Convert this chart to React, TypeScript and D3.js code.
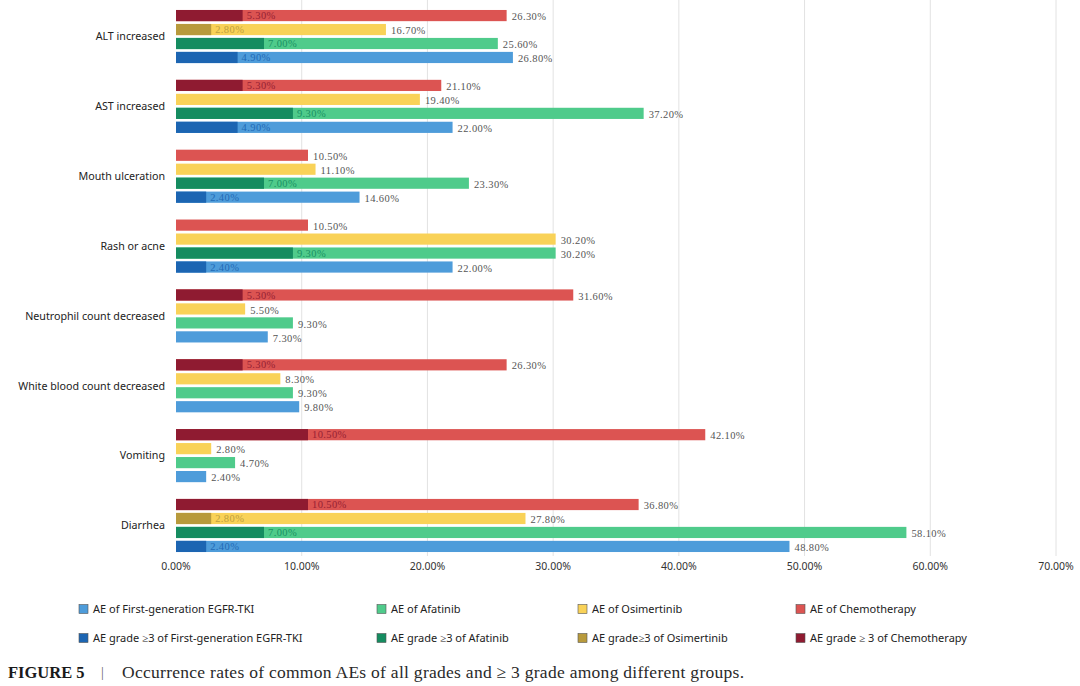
import React from "react";
import * as d3 from "d3";

const categories = [
  "ALT increased",
  "AST increased",
  "Mouth ulceration",
  "Rash or acne",
  "Neutrophil count decreased",
  "White blood count decreased",
  "Vomiting",
  "Diarrhea",
];

const seriesKeys = ["Chemotherapy", "Osimertinib", "Afatinib", "First-generation EGFR-TKI"];

// all grades (per category, same order as categories)
const chemoAll = [26.3, 21.1, 10.5, 10.5, 31.6, 26.3, 42.1, 36.8];
const osimAll = [16.7, 19.4, 11.1, 30.2, 5.5, 8.3, 2.8, 27.8];
const afatAll = [25.6, 37.2, 23.3, 30.2, 9.3, 9.3, 4.7, 58.1];
const firstAll = [26.8, 22.0, 14.6, 22.0, 7.3, 9.8, 2.4, 48.8];

// grade >= 3 (null = not reported)
const chemoG3 = [5.3, 5.3, null, null, 5.3, 5.3, 10.5, 10.5];
const osimG3 = [2.8, null, null, null, null, null, null, 2.8];
const afatG3 = [7.0, 9.3, 7.0, 9.3, null, null, null, 7.0];
const firstG3 = [4.9, 4.9, 2.4, 2.4, null, null, null, 2.4];

const xTicks = [0, 10, 20, 30, 40, 50, 60, 70];

const lightColors = ["#DC5452", "#F9D258", "#4FCB8B", "#4E9CDA"];
const darkColors = ["#8F1B31", "#B89A3C", "#158C60", "#1C65B2"];

const legendRow1 = [
  { label: "AE of First-generation EGFR-TKI", color: "#4E9CDA" },
  { label: "AE of Afatinib", color: "#4FCB8B" },
  { label: "AE of Osimertinib", color: "#F9D258" },
  { label: "AE of Chemotherapy", color: "#DC5452" },
];
const legendRow2 = [
  { label: "AE grade ≥3 of First-generation EGFR-TKI", color: "#1C65B2" },
  { label: "AE grade ≥3 of Afatinib", color: "#158C60" },
  { label: "AE grade≥3 of Osimertinib", color: "#B89A3C" },
  { label: "AE grade ≥ 3 of Chemotherapy", color: "#8F1B31" },
];
const legendX = [79, 377, 578, 796];

const allSeries = [chemoAll, osimAll, afatAll, firstAll];
const g3Series = [chemoG3, osimG3, afatG3, firstG3];

const fmt = (v: number) => v.toFixed(2) + "%";

export default function App() {
  const W = 1080;
  const H = 686;
  const x = d3.scaleLinear().domain([0, 70]).range([176, 1056]);
  const y = d3
    .scaleBand<string>()
    .domain(categories)
    .range([1.6, 560.4])
    .paddingInner(0.24)
    .paddingOuter(0.12);
  const ySub = d3
    .scaleBand<string>()
    .domain(seriesKeys)
    .range([0, y.bandwidth()])
    .paddingInner(0.2)
    .paddingOuter(0);
  const bh = ySub.bandwidth();

  return (
    <svg
      width={W}
      height={H}
      style={{ position: "absolute", left: 0, top: 0, background: "#fff" }}
    >
      <rect x={0} y={0} width={W} height={H} fill="#fff" />
      {/* gridlines */}
      {xTicks.slice(1).map((t) => (
        <line
          key={"g" + t}
          x1={x(t)}
          x2={x(t)}
          y1={0}
          y2={556}
          stroke="#e2e2e2"
          strokeWidth={1}
        />
      ))}
      {/* bars */}
      {categories.map((c, ci) => (
        <g key={c} transform={`translate(0,${y(c)})`}>
          {seriesKeys.map((s, si) => {
            const v = allSeries[si][ci];
            const g = g3Series[si][ci];
            const yy = ySub(s)!;
            return (
              <g key={s}>
                <rect
                  x={x(0)}
                  y={yy}
                  width={x(v) - x(0)}
                  height={bh}
                  fill={lightColors[si]}
                />
                {g != null && (
                  <rect
                    x={x(0)}
                    y={yy}
                    width={x(g) - x(0)}
                    height={bh}
                    fill={darkColors[si]}
                  />
                )}
                {g != null && (
                  <text
                    x={x(g) + 4}
                    y={yy + bh / 2}
                    dy="0.35em"
                    fontFamily="Liberation Serif"
                    fontSize={10.5}
                    letterSpacing={0.4}
                    fill={darkColors[si]}
                    opacity={0.9}
                  >
                    {fmt(g)}
                  </text>
                )}
                <text
                  x={x(v) + 5}
                  y={yy + bh / 2 + 1}
                  dy="0.35em"
                  fontFamily="Liberation Serif"
                  fontSize={10.5}
                  letterSpacing={0.4}
                  fill="#555"
                >
                  {fmt(v)}
                </text>
              </g>
            );
          })}
          <text
            x={165}
            y={y.bandwidth() / 2}
            dy="0.35em"
            textAnchor="end"
            fontFamily="Noto Sans"
            fontSize={10.7}
            fill="#222"
          >
            {c}
          </text>
        </g>
      ))}
      {/* x axis labels */}
      {xTicks.map((t) => (
        <text
          key={"t" + t}
          x={x(t)}
          y={566}
          dy="0.35em"
          textAnchor="middle"
          fontFamily="Noto Sans"
          fontSize={10.5}
          fill="#333"
        >
          {t.toFixed(2) + "%"}
        </text>
      ))}
      {/* legend */}
      {[legendRow1, legendRow2].map((row, ri) =>
        row.map((item, i) => (
          <g key={ri + "-" + i} transform={`translate(${legendX[i]},${609 + ri * 29})`}>
            <rect
              x={0}
              y={-4.5}
              width={9}
              height={9}
              fill={item.color}
              stroke="#555"
              strokeWidth={0.6}
            />
            <text
              x={14}
              y={0}
              dy="0.35em"
              fontFamily="Noto Sans"
              fontSize={11}
              fill="#222"
            >
              {item.label}
            </text>
          </g>
        ))
      )}
      {/* caption */}
      <text
        x={8}
        y={678}
        fontFamily="Liberation Serif"
        fontSize={16.5}
        fontWeight="bold"
        fill="#1a1a1a"
      >
        FIGURE 5
      </text>
      <text x={101} y={677} fontFamily="Liberation Serif" fontSize={14} fill="#666">
        |
      </text>
      <text
        x={122}
        y={678}
        fontFamily="Liberation Serif"
        fontSize={17.5}
        textLength={622}
        lengthAdjust="spacing"
        fill="#2a2a2a"
      >
        Occurrence rates of common AEs of all grades and ≥ 3 grade among different groups.
      </text>
    </svg>
  );
}
